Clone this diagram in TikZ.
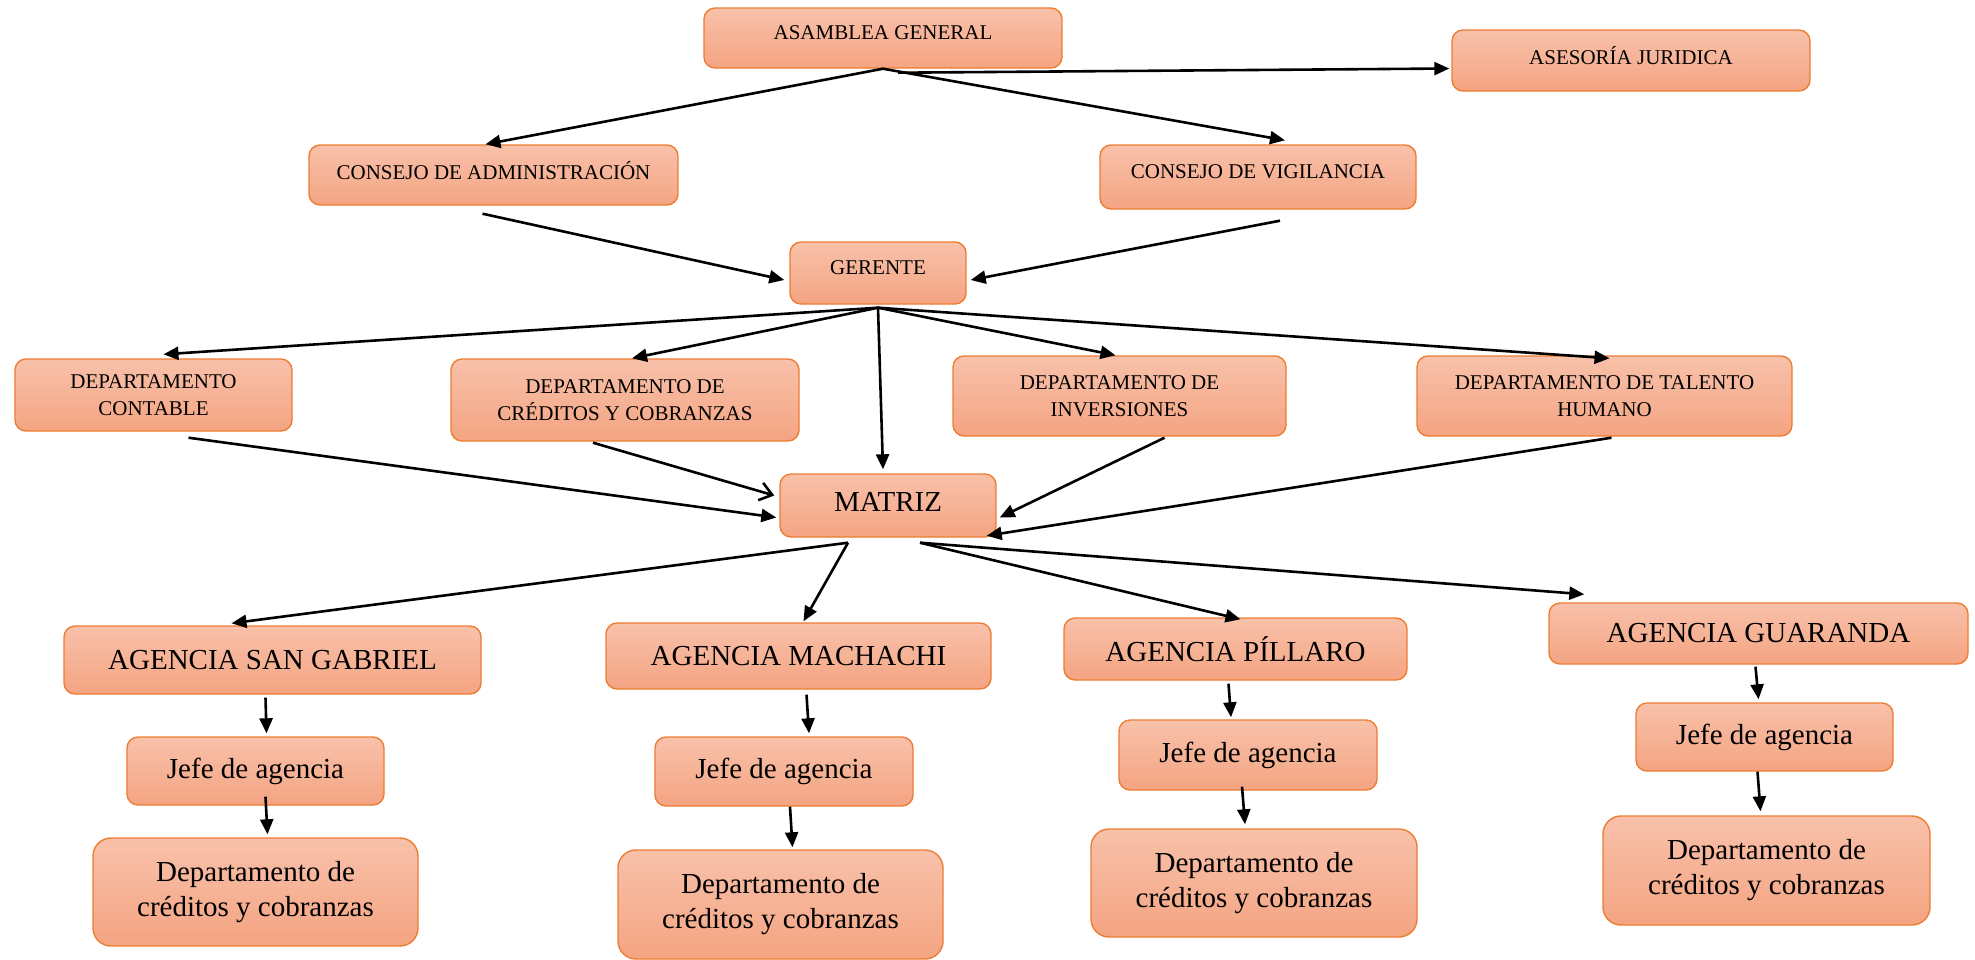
\documentclass[tikz,border=0pt]{standalone}
\usepackage{fontspec}
\setmainfont{Liberation Serif}
\usetikzlibrary{arrows.meta}
\definecolor{boxtop}{RGB}{248,193,170}
\definecolor{boxbottom}{RGB}{244,164,130}
\definecolor{boxline}{RGB}{237,125,49}
\begin{document}
\begin{tikzpicture}[
        x=1pt, y=-1pt,
        >={Triangle[length=15pt,width=13pt]},
        box/.style={draw=boxline, line width=1.4pt, rounded corners=11pt,
            top color=boxtop, bottom color=boxbottom, align=center,
            font=\fontsize{21}{27}\selectfont},
        highbox/.style={box, text depth=10pt},
        bigbox/.style={box, font=\fontsize{29}{35}\selectfont},
        tallbox/.style={bigbox, rounded corners=18pt},
        wh/.style 2 args={minimum width=#1, minimum height=#2},
        arr/.style={->, line width=2.6pt},
        openarr/.style={-{Straight Barb[length=12pt,width=18pt]}, line width=2.6pt},
        ]
        \useasboundingbox (0,0) rectangle (1975,959);

        % Top levels
        \node[highbox, wh={358}{60}] (asamblea) at (883,38) {ASAMBLEA GENERAL};
        \node[highbox, wh={358}{61}] (asesoria) at (1631,60.5) {ASESORÍA JURIDICA};
        \node[highbox, wh={369}{60}] (cadmin) at (493.5,175) {CONSEJO DE ADMINISTRACIÓN};
        \node[highbox, wh={316}{64}] (cvig) at (1258,177) {CONSEJO DE VIGILANCIA};
        \node[highbox, wh={176}{62}] (gerente) at (878,273) {GERENTE};

        % Departments
        \node[box, wh={277}{72}] (dcont) at (153.5,395) {DEPARTAMENTO\\CONTABLE};
        \node[box, wh={348}{82}] (dcred) at (625,400) {DEPARTAMENTO DE\\CRÉDITOS Y COBRANZAS};
        \node[box, wh={333}{80}] (dinv) at (1119.5,396) {DEPARTAMENTO DE\\INVERSIONES};
        \node[box, wh={375}{80}] (dtal) at (1604.5,396) {DEPARTAMENTO DE TALENTO\\HUMANO};
        \node[bigbox, wh={216}{63}, text depth=7pt] (matriz) at (888,505.5) {MATRIZ};

        % Agencies
        \node[bigbox, wh={417}{68}] (agsg) at (272.5,660) {AGENCIA SAN GABRIEL};
        \node[bigbox, wh={385}{66}] (agmach) at (798.5,656) {AGENCIA MACHACHI};
        \node[bigbox, wh={343}{62}] (agpil) at (1235.5,649) {AGENCIA PÍLLARO};
        \node[bigbox, wh={419}{61}] (agguar) at (1758.5,633.5) {AGENCIA GUARANDA};

        \node[bigbox, wh={257}{68}] (jefe1) at (255.5,771) {Jefe de agencia};
        \node[bigbox, wh={258}{69}] (jefe2) at (784,771.5) {Jefe de agencia};
        \node[bigbox, wh={258}{70}] (jefe3) at (1248,755) {Jefe de agencia};
        \node[bigbox, wh={257}{68}] (jefe4) at (1764.5,737) {Jefe de agencia};

        \node[tallbox, wh={325}{108}] (dep1) at (255.5,892) {Departamento de\\créditos y cobranzas};
        \node[tallbox, wh={325}{109}] (dep2) at (780.5,904.5) {Departamento de\\créditos y cobranzas};
        \node[tallbox, wh={326}{108}] (dep3) at (1254,883) {Departamento de\\créditos y cobranzas};
        \node[tallbox, wh={327}{109}] (dep4) at (1766.5,870.5) {Departamento de\\créditos y cobranzas};

        % Junctions
        \coordinate (gj) at ([yshift=-3pt]gerente.south);
        \coordinate (mjl) at ([xshift=-40pt,yshift=-5pt]matriz.south);
        \coordinate (mjr) at ([xshift=32pt,yshift=-5pt]matriz.south);

        % Connectors
        \draw[arr] (asamblea.south) -- ([xshift=-8pt]cadmin.north);
        \draw[arr] (asamblea.south) -- ([xshift=27pt,yshift=4pt]cvig.north);
        \draw[arr] ([xshift=15pt,yshift=-4pt]asamblea.south) -- ([xshift=-2pt,yshift=-8pt]asesoria.west);
        \draw[arr] ([xshift=-11pt,yshift=-8pt]cadmin.south) -- ([xshift=-5pt,yshift=-7pt]gerente.west);
        \draw[arr] ([xshift=22pt,yshift=-11pt]cvig.south) -- ([xshift=4pt,yshift=-7pt]gerente.east);

        \draw[arr] (gj) -- ([xshift=10pt,yshift=4pt]dcont.north);
        \draw[arr] (gj) -- ([xshift=7pt]dcred.north);
        \draw[arr] (gj) -- ([xshift=-5pt,yshift=4pt]matriz.north);
        \draw[arr] (gj) -- ([xshift=-4pt]dinv.north);
        \draw[arr] (gj) -- ([xshift=5pt,yshift=-3pt]dtal.north);

        \draw[arr] ([xshift=35pt,yshift=-6pt]dcont.south) -- ([xshift=-3pt,yshift=-12pt]matriz.west);
        \draw[openarr] ([xshift=-32pt,yshift=-1pt]dcred.south) -- ([xshift=-5pt,yshift=10pt]matriz.west);
        \draw[arr] ([xshift=45pt,yshift=-1pt]dinv.south) -- ([xshift=3pt,yshift=-12pt]matriz.east);
        \draw[arr] ([xshift=7pt,yshift=-1pt]dtal.south) -- ([xshift=-10pt,yshift=2pt]matriz.south east);

        \draw[arr] (mjl) -- ([xshift=-41pt,yshift=2pt]agsg.north);
        \draw[arr] (mjl) -- ([xshift=5pt,yshift=1pt]agmach.north);
        \draw[arr] (mjr) -- ([xshift=5pt,yshift=-2pt]agpil.north);
        \draw[arr] (mjr) -- ([xshift=36pt,yshift=8pt]agguar.north west);

        \draw[arr] ([xshift=-7pt,yshift=-3pt]agsg.south) -- ([xshift=11pt,yshift=3pt]jefe1.north);
        \draw[arr] ([xshift=8pt,yshift=-5pt]agmach.south) -- ([xshift=25pt,yshift=3pt]jefe2.north);
        \draw[arr] ([xshift=-7pt,yshift=-3pt]agpil.south) -- ([xshift=-17pt,yshift=2pt]jefe3.north);
        \draw[arr] ([xshift=-3pt,yshift=-2pt]agguar.south) -- ([xshift=-6pt,yshift=3pt]jefe4.north);

        \draw[arr] ([xshift=10pt,yshift=9pt]jefe1.south) -- ([xshift=12pt,yshift=3pt]dep1.north);
        \draw[arr] ([xshift=6pt]jefe2.south) -- ([xshift=12pt,yshift=2pt]dep2.north);
        \draw[arr] ([xshift=-6pt,yshift=4pt]jefe3.south) -- ([xshift=-9pt,yshift=4pt]dep3.north);
        \draw[arr] ([xshift=-7pt]jefe4.south) -- ([xshift=-6pt,yshift=4pt]dep4.north);

    \end{tikzpicture}
\end{document}
